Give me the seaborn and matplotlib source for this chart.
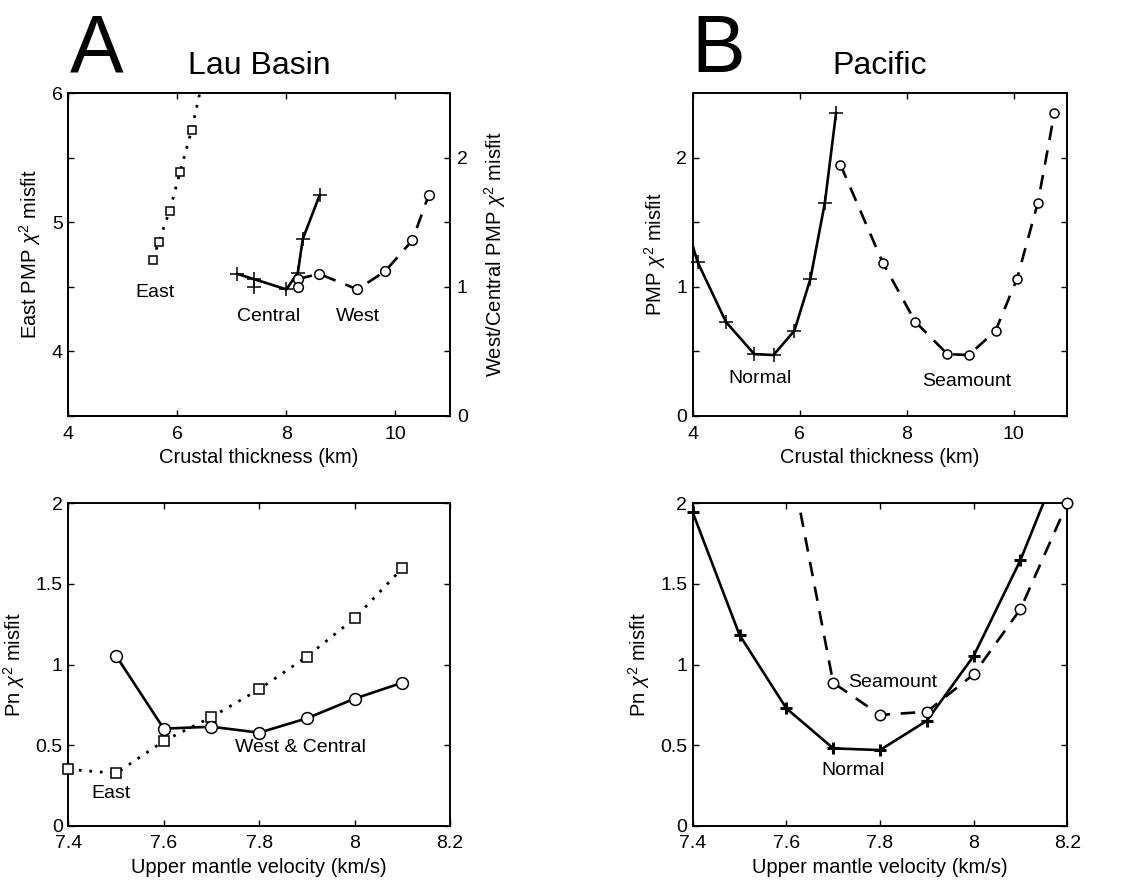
import numpy as np
import matplotlib
matplotlib.use("Agg")
import matplotlib.pyplot as plt
import seaborn as sns

# ---------------- data ----------------
# Panel A top (Lau Basin, crustal thickness)
east_thk = [5.55, 5.66, 5.86, 6.05, 6.26]
east_pmp = [4.71, 4.85, 5.09, 5.39, 5.71]
east_thk_ext = [6.50]          # continuation of the East curve above the axes
east_pmp_ext = [6.17]

central_thk = [7.10, 7.40, 8.00, 8.21, 8.30, 8.61]
central_pmp = [1.10, 1.06, 0.98, 1.11, 1.37, 1.71]
central_extra_thk = [7.40]
central_extra_pmp = [1.00]

west_thk = [8.21, 8.60, 9.30, 9.81, 10.31, 10.61]
west_pmp = [1.06, 1.10, 0.98, 1.12, 1.36, 1.71]
west_extra_thk = [8.21]
west_extra_pmp = [1.00]

# Panel A bottom (Lau Basin, upper mantle velocity)
lau_vel_east = [7.4, 7.5, 7.6, 7.7, 7.8, 7.9, 8.0, 8.1]
lau_pn_east = [0.35, 0.325, 0.525, 0.674, 0.846, 1.049, 1.286, 1.597]
lau_vel_wc = [7.5, 7.6, 7.7, 7.8, 7.9, 8.0, 8.1]
lau_pn_wc = [1.055, 0.602, 0.614, 0.577, 0.666, 0.788, 0.887]

# Panel B top (Pacific, crustal thickness)
normal_thk = [4.09, 4.62, 5.15, 5.51, 5.90, 6.20, 6.47, 6.68]
normal_pmp = [1.193, 0.729, 0.479, 0.472, 0.660, 1.062, 1.652, 2.348]
normal_thk_ext = [3.60]        # continuation left of the axes
normal_pmp_ext = [1.87]
seamount_thk = [6.76, 7.55, 8.16, 8.76, 9.16, 9.66, 10.06, 10.45, 10.76]
seamount_pmp = [1.946, 1.188, 0.729, 0.479, 0.472, 0.660, 1.062, 1.652, 2.348]

# Panel B bottom (Pacific, upper mantle velocity)
pac_vel_normal = [7.4, 7.5, 7.6, 7.7, 7.8, 7.9, 8.0, 8.1]
pac_pn_normal = [1.944, 1.183, 0.728, 0.480, 0.469, 0.651, 1.053, 1.648]
pac_vel_normal_ext = [8.2]
pac_pn_normal_ext = [2.37]
pac_vel_seamount = [7.7, 7.8, 7.9, 8.0, 8.1, 8.2]
pac_pn_seamount = [0.887, 0.687, 0.707, 0.939, 1.344, 2.0]
pac_vel_seamount_ext = [7.6]
pac_pn_seamount_ext = [2.40]

# ticks / labels
thk_ticks = [4, 6, 8, 10]
thk_ticklabels = ["4", "6", "8", "10"]
east_ticks = [4, 5, 6]
east_ticklabels = ["4", "5", "6"]
misfit_ticks = [0, 0.5, 1, 1.5, 2]
misfit_ticklabels_int = ["0", "", "1", "", "2"]
pn_ticklabels = ["0", "0.5", "1", "1.5", "2"]
vel_ticks = [7.4, 7.6, 7.8, 8.0, 8.2]
vel_ticklabels = ["7.4", "7.6", "7.8", "8", "8.2"]

# ---------------- style ----------------
sns.set_theme(style="ticks")
plt.rcParams["font.family"] = ["Liberation Sans", "DejaVu Sans"]
plt.rcParams.update({
    "mathtext.fontset": "custom",
    "mathtext.rm": "Liberation Sans",
    "mathtext.it": "Liberation Sans:italic",
    "mathtext.sf": "Liberation Sans",
    "axes.linewidth": 1.4,
    "axes.edgecolor": "black",
    "xtick.color": "black",
    "ytick.color": "black",
    "text.color": "black",
    "axes.labelcolor": "black",
})

TICK_FS = 14
LABEL_FS = 14.5
ANNOT_FS = 14
TITLE_FS = 23

fig = plt.figure(figsize=(11.31, 8.83), dpi=100)
W, H = 1131.0, 883.0


def add_axes(x0, y_top, x1, y_bot):
    return fig.add_axes([x0 / W, 1 - y_bot / H, (x1 - x0) / W, (y_bot - y_top) / H])


axA1 = add_axes(68.3, 93.0, 450.0, 416.0)
axB1 = add_axes(692.7, 93.0, 1067.3, 416.0)
axA2 = add_axes(68.3, 503.3, 450.0, 825.7)
axB2 = add_axes(692.7, 503.3, 1067.3, 825.7)

LW = 1.9
DOT = (0, (1, 2.8))
DASH = (0, (5.5, 4))


def line(ax, x, y, ls, lw=LW):
    sns.lineplot(x=x, y=y, ax=ax, color="black", linestyle=ls, linewidth=lw,
                 sort=False, estimator=None, zorder=2)


def marks(ax, x, y, marker, ms, mew=1.0, face="white"):
    sns.lineplot(x=x, y=y, ax=ax, color="black", linestyle="none", marker=marker,
                 markersize=ms, markeredgewidth=mew, markeredgecolor="black",
                 markerfacecolor=face, sort=False, estimator=None,
                 clip_on=False, zorder=3)


def style_ticks(ax, **kw):
    ax.tick_params(direction="in", length=4.5, width=1.0, labelsize=TICK_FS, **kw)


# ---------- Panel A top ----------
axA1r = axA1.twinx()
line(axA1, east_thk + east_thk_ext, east_pmp + east_pmp_ext, DOT, lw=2.0)
marks(axA1, east_thk, east_pmp, "s", 6.0, mew=1.1)

line(axA1r, central_thk, central_pmp, "-")
marks(axA1r, central_thk, central_pmp, "+", 10, mew=1.1)
marks(axA1r, central_extra_thk, central_extra_pmp, "+", 10, mew=1.1)
line(axA1r, west_thk, west_pmp, DASH)
marks(axA1r, west_thk, west_pmp, "o", 7.0, mew=1.1)
marks(axA1r, west_extra_thk, west_extra_pmp, "o", 7.0, mew=1.1)

axA1.set_xlim(4, 11)
axA1.set_ylim(3.5, 6)
axA1r.set_ylim(0, 2.5)
axA1.set_xticks(thk_ticks)
axA1.set_xticklabels(thk_ticklabels)
axA1.set_yticks(east_ticks)
axA1.set_yticklabels(east_ticklabels)
axA1r.set_yticks([0, 1, 2])
axA1r.set_yticklabels(["0", "1", "2"])
style_ticks(axA1, top=True, right=True, labelright=False)
axA1.tick_params(axis="x", pad=7)
axA1.tick_params(axis="y", pad=4)
style_ticks(axA1r, left=True, labelleft=False, right=True, labelright=True)
axA1r.tick_params(axis="y", pad=5)
axA1.set_xlabel("Crustal thickness (km)", fontsize=LABEL_FS, labelpad=4)
axA1.set_ylabel(r"East PMP $\chi^2$ misfit", fontsize=LABEL_FS, labelpad=6)
axA1r.set_ylabel(r"West/Central PMP $\chi^2$ misfit", fontsize=LABEL_FS, labelpad=10)
axA1.set_title("Lau Basin", fontsize=TITLE_FS, pad=14)
axA1.text(5.59, 4.455, "East", fontsize=ANNOT_FS, ha="center", va="center")
axA1r.text(7.67, 0.773, "Central", fontsize=ANNOT_FS, ha="center", va="center")
axA1r.text(9.31, 0.773, "West", fontsize=ANNOT_FS, ha="center", va="center")

# ---------- Panel B top ----------
line(axB1, normal_thk_ext + normal_thk, normal_pmp_ext + normal_pmp, "-")
marks(axB1, normal_thk, normal_pmp, "+", 10, mew=1.1)
line(axB1, seamount_thk, seamount_pmp, DASH)
marks(axB1, seamount_thk, seamount_pmp, "o", 6.5, mew=1.1)
axB1.set_xlim(4, 11)
axB1.set_ylim(0, 2.5)
axB1.set_xticks(thk_ticks)
axB1.set_xticklabels(thk_ticklabels)
axB1.set_yticks(misfit_ticks)
axB1.set_yticklabels(misfit_ticklabels_int)
style_ticks(axB1, top=True, right=True)
axB1.tick_params(axis="x", pad=7)
axB1.tick_params(axis="y", pad=4)
axB1.set_xlabel("Crustal thickness (km)", fontsize=LABEL_FS, labelpad=4)
axB1.set_ylabel(r"PMP $\chi^2$ misfit", fontsize=LABEL_FS, labelpad=6)
axB1.set_title("Pacific", fontsize=TITLE_FS, pad=14)
axB1.text(5.25, 0.291, "Normal", fontsize=ANNOT_FS, ha="center", va="center")
axB1.text(9.12, 0.265, "Seamount", fontsize=ANNOT_FS, ha="center", va="center")

# ---------- Panel A bottom ----------
line(axA2, lau_vel_east, lau_pn_east, DOT, lw=2.0)
marks(axA2, lau_vel_east, lau_pn_east, "s", 6.5, mew=1.1)
line(axA2, lau_vel_wc, lau_pn_wc, "-")
marks(axA2, lau_vel_wc, lau_pn_wc, "o", 8.5, mew=1.1)
axA2.set_xlim(7.4, 8.2)
axA2.set_ylim(0, 2)
axA2.set_xticks(vel_ticks)
axA2.set_xticklabels(vel_ticklabels)
axA2.set_yticks(misfit_ticks)
axA2.set_yticklabels(pn_ticklabels)
style_ticks(axA2, top=True, right=True)
axA2.tick_params(axis="x", pad=7)
axA2.tick_params(axis="y", pad=4)
axA2.set_xlabel("Upper mantle velocity (km/s)", fontsize=LABEL_FS, labelpad=4)
axA2.set_ylabel(r"Pn $\chi^2$ misfit", fontsize=LABEL_FS, labelpad=6)
axA2.text(7.75, 0.486, "West & Central", fontsize=ANNOT_FS, ha="left", va="center")
axA2.text(7.49, 0.20, "East", fontsize=ANNOT_FS, ha="center", va="center")

# ---------- Panel B bottom ----------
line(axB2, pac_vel_normal + pac_vel_normal_ext, pac_pn_normal + pac_pn_normal_ext, "-")
marks(axB2, pac_vel_normal, pac_pn_normal, "+", 9, mew=2.2)
line(axB2, pac_vel_seamount_ext + pac_vel_seamount, pac_pn_seamount_ext + pac_pn_seamount, DASH)
marks(axB2, pac_vel_seamount, pac_pn_seamount, "o", 7.5, mew=1.1)
axB2.set_xlim(7.4, 8.2)
axB2.set_ylim(0, 2)
axB2.set_xticks(vel_ticks)
axB2.set_xticklabels(vel_ticklabels)
axB2.set_yticks(misfit_ticks)
axB2.set_yticklabels(pn_ticklabels)
style_ticks(axB2, top=True, right=True)
axB2.tick_params(axis="x", pad=7)
axB2.tick_params(axis="y", pad=4)
axB2.set_xlabel("Upper mantle velocity (km/s)", fontsize=LABEL_FS, labelpad=4)
axB2.set_ylabel(r"Pn $\chi^2$ misfit", fontsize=LABEL_FS, labelpad=6)
axB2.text(7.732, 0.887, "Seamount", fontsize=ANNOT_FS, ha="left", va="center")
axB2.text(7.743, 0.345, "Normal", fontsize=ANNOT_FS, ha="center", va="center")

for ax in (axA1, axA1r, axB1, axA2, axB2):
    for s in ax.spines.values():
        s.set_linewidth(1.4)
        s.set_color("black")

# panel letters
fig.text(70 / W, 1 - 72 / H, "A", fontsize=58, ha="left", va="baseline")
fig.text(691 / W, 1 - 72 / H, "B", fontsize=58, ha="left", va="baseline")

fig.savefig("out.png", dpi=100, facecolor="white")
